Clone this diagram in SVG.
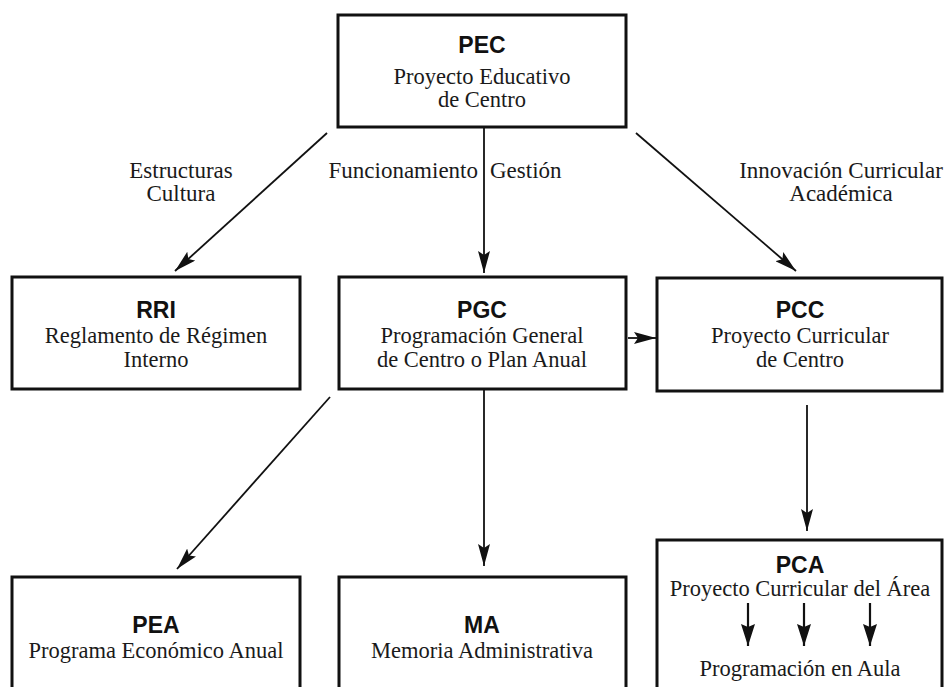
<svg xmlns="http://www.w3.org/2000/svg" width="948" height="687" viewBox="0 0 948 687">
<style>
.box{fill:#fff;stroke:#111;stroke-width:3}
.t{font-family:"Liberation Sans",Arial,sans-serif;font-weight:bold;font-size:23px;fill:#111;text-anchor:middle}
.b{font-family:"Liberation Serif","Times New Roman",serif;font-size:22.5px;fill:#1a1a1a;text-anchor:middle}
.l{font-family:"Liberation Serif","Times New Roman",serif;font-size:23px;fill:#1a1a1a}
.c{stroke:#111;stroke-width:1.8;fill:none;marker-end:url(#ah)}
.c2{stroke:#111;stroke-width:2.2;fill:none;marker-end:url(#ah2)}
</style>
<defs>
<marker id="ah" viewBox="0 0 22 12" refX="22" refY="6" markerWidth="22" markerHeight="12" markerUnits="userSpaceOnUse" orient="auto">
<path d="M0,0 L22,6 L0,12 L4,6 Z" fill="#111"/>
</marker>
<marker id="ah2" viewBox="0 0 22 14" refX="22" refY="7" markerWidth="22" markerHeight="14" markerUnits="userSpaceOnUse" orient="auto">
<path d="M0,0 L22,7 L0,14 L3,7 Z" fill="#111"/>
</marker>
</defs>
<rect width="948" height="687" fill="#fff"/>
<g id="PEC">
<rect class="box" x="338" y="15" width="288" height="112"/>
<text class="t" x="482" y="53">PEC</text>
<text class="b" x="482" y="84">Proyecto Educativo</text>
<text class="b" x="482" y="107">de Centro</text>
</g>
<g id="RRI">
<rect class="box" x="12" y="277" width="288" height="112"/>
<text class="t" x="156" y="318">RRI</text>
<text class="b" x="156" y="343">Reglamento de Régimen</text>
<text class="b" x="156" y="367">Interno</text>
</g>
<g id="PGC">
<rect class="box" x="339" y="277" width="287" height="112"/>
<text class="t" x="482" y="318">PGC</text>
<text class="b" x="482" y="343">Programación General</text>
<text class="b" x="482" y="367">de Centro o Plan Anual</text>
</g>
<g id="PCC">
<rect class="box" x="657" y="278" width="285" height="113"/>
<text class="t" x="800" y="318">PCC</text>
<text class="b" x="800" y="343">Proyecto Curricular</text>
<text class="b" x="800" y="367">de Centro</text>
</g>
<g id="PEA">
<rect class="box" x="12" y="577" width="288" height="130"/>
<text class="t" x="156" y="633">PEA</text>
<text class="b" x="156" y="658">Programa Económico Anual</text>
</g>
<g id="MA">
<rect class="box" x="339" y="577" width="287" height="130"/>
<text class="t" x="482" y="633">MA</text>
<text class="b" x="482" y="658">Memoria Administrativa</text>
</g>
<g id="PCA">
<rect class="box" x="657" y="540" width="285" height="170"/>
<text class="t" x="800" y="573">PCA</text>
<text class="b" x="800" y="596">Proyecto Curricular del Área</text>
<text class="b" x="800" y="676">Programación en Aula</text>
</g>
<g id="connectors">
<line class="c" x1="327" y1="133" x2="175" y2="271"/>
<line class="c" x1="484" y1="128" x2="484" y2="273"/>
<line class="c" x1="636" y1="133" x2="796" y2="271"/>
<line class="c" x1="628" y1="338" x2="656" y2="338"/>
<line class="c" x1="330" y1="397" x2="177" y2="569"/>
<line class="c" x1="484" y1="390" x2="484" y2="566"/>
<line class="c" x1="807" y1="405" x2="807" y2="531"/>
<line class="c2" x1="748" y1="603" x2="748" y2="646"/>
<line class="c2" x1="804" y1="603" x2="804" y2="646"/>
<line class="c2" x1="870" y1="603" x2="870" y2="646"/>
</g>
<g id="labels">
<text class="l" x="181" y="178" text-anchor="middle">Estructuras</text>
<text class="l" x="181" y="201" text-anchor="middle">Cultura</text>
<text class="l" x="478" y="178" text-anchor="end">Funcionamiento</text>
<text class="l" x="490" y="178">Gestión</text>
<text class="l" x="841" y="178" text-anchor="middle">Innovación Curricular</text>
<text class="l" x="841" y="201" text-anchor="middle">Académica</text>
</g>
</svg>
